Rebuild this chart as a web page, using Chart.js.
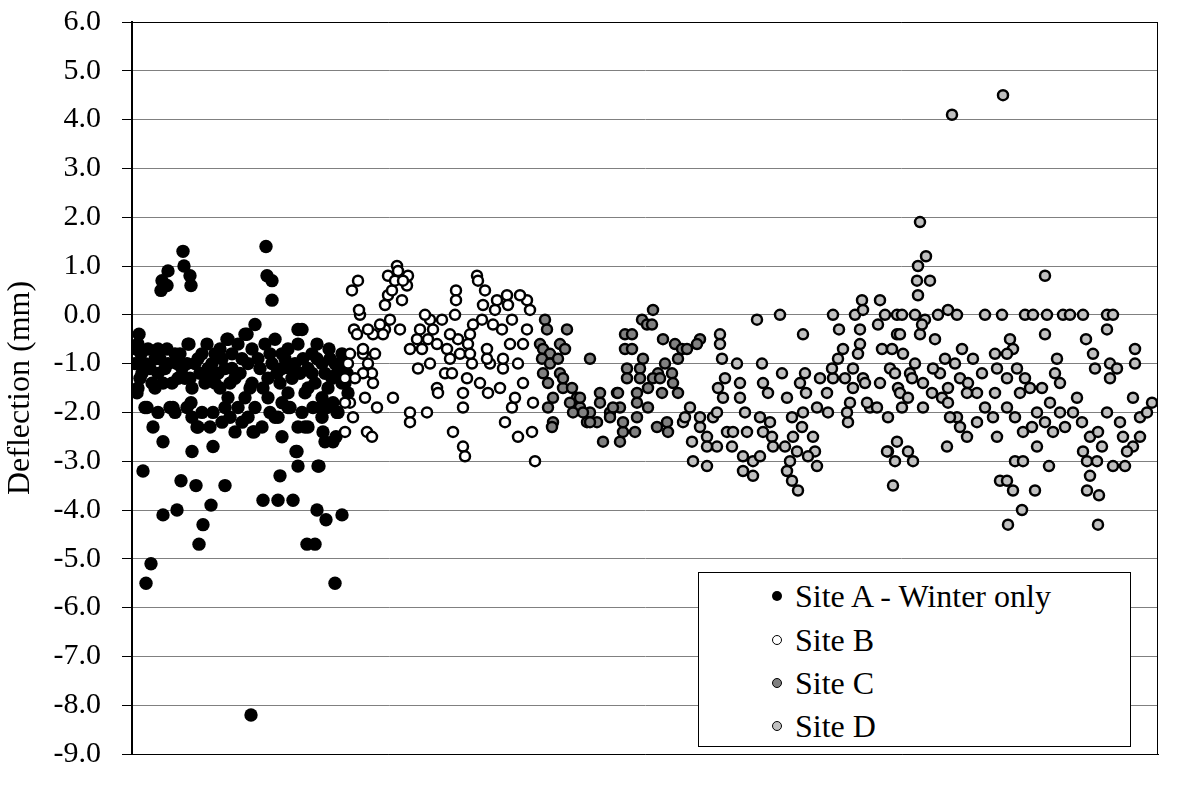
<!DOCTYPE html>
<html>
<head>
<meta charset="utf-8">
<script src="https://cdn.jsdelivr.net/npm/chart.js@4.4.0/dist/chart.umd.min.js"></script>
</head>
<body style="margin:0;background:#fff">
<div id="wrap" style="position:relative;width:1200px;height:800px">
    <div id="legend" style="position:absolute;z-index:2;left:698px;top:572px;width:431px;height:173px;border:1px solid #000;background:#fff;font-family:'Liberation Serif';font-size:32px;color:#000">
        <div style="position:absolute;left:73px;top:3px;height:40px;display:flex;align-items:center"><span style="width:10px;height:10px;border-radius:50%;margin-right:13px;background:#000"></span>Site A - Winter only</div>
        <div style="position:absolute;left:73px;top:47px;height:40px;display:flex;align-items:center"><span style="width:10px;height:10px;border-radius:50%;margin-right:13px;box-sizing:border-box;background:#fff;border:1.5px solid #000"></span>Site B</div>
        <div style="position:absolute;left:73px;top:90px;height:40px;display:flex;align-items:center"><span style="width:10px;height:10px;border-radius:50%;margin-right:13px;box-sizing:border-box;background:#808080;border:1.5px solid #000"></span>Site C</div>
        <div style="position:absolute;left:73px;top:133px;height:40px;display:flex;align-items:center"><span style="width:10px;height:10px;border-radius:50%;margin-right:13px;box-sizing:border-box;background:#c0c0c0;border:1.5px solid #000"></span>Site D</div>
    </div>
    <canvas id="deflection" width="1200" height="800"></canvas>
</div>
<script>
// readings: [sample no., deflection mm]
const siteA = [
    [4,-0.7],[5,-1.6],[7,-0.4],[6,-0.6],[8,-1.3],[9,-0.8],[11,-3.2],[14,-5.5],[19,-5.1],[13,-1.9],[21,-2.3],
    [31,-2.6],[31,-4.1],[45,-4.0],[49,-3.4],[60,-2.8],[64,-3.5],[67,-4.7],[71,-4.3],[79,-3.9],[81,-2.7],
    [93,-3.5],[103,-2.4],[119,-8.2],[122,-2.4],[131,-3.8],[146,-3.8],[148,-3.3],[150,-2.5],[161,-3.8],
    [164,-2.8],[166,-3.1],[175,-4.7],[183,-4.7],[185,-4.0],[187,-3.1],[194,-4.2],[203,-5.5],[210,-4.1],
    [191,-2.4],[201,-2.6],[193,-2.6],[173,-2.3],[188,-1.9],[205,-2.0],[59,-1.8],[38,-1.9],[65,-2.3],
    [78,-2.3],[90,-2.2],[130,-2.3],[143,-2.1],[156,-1.9],
    [29,0.5],[30,0.7],[36,0.9],[35,0.6],[51,1.3],[52,1.0],[58,0.8],[59,0.6],[134,1.4],[135,0.8],[140,0.7],
    [140,0.3],[123,-0.2],[113,-0.4],[95,-0.5],[57,-0.6],[170,-0.3],[166,-0.3],[197,-0.7],
    [56,-0.6],[96,-0.5],[115,-0.4],[143,-0.5],[26,-0.7],[35,-0.7],[43,-0.8],[70,-0.8],[83,-0.8],[106,-0.6],
    [133,-0.6],[156,-0.7],[166,-0.6],[180,-0.8],
    [13,-1.0],[23,-0.9],[36,-1.0],[50,-1.1],[63,-1.0],[76,-1.1],[90,-0.9],[100,-1.1],[126,-0.9],[140,-1.0],
    [150,-1.1],[163,-1.0],[176,-1.1],[190,-1.0],[203,-1.0],
    [10,-1.2],[26,-1.2],[53,-1.3],[76,-1.2],[103,-1.3],[120,-1.4],[136,-1.3],[160,-1.3],[200,-1.3],[213,-1.4],
    [6,-1.5],[23,-1.5],[40,-1.4],[60,-1.5],[83,-1.4],[96,-1.7],[113,-1.7],[136,-1.7],[156,-1.6],[176,-1.5],[190,-1.7],
    [15,-1.9],[26,-2.0],[41,-1.9],[60,-2.1],[81,-2.0],[93,-1.9],[106,-1.9],[116,-2.1],[123,-1.9],[146,-2.1],
    [158,-1.9],[190,-2.1],[206,-2.0],[66,-2.3],[121,-2.4],[166,-2.3],[176,-2.3],[165,-2.8],[186,-3.1],
    [198,-0.9],[205,-1.2],[210,-1.4],[213,-1.0],[201,-1.8],[204,-2.5],
    [3,-1.0],[16,-0.7],[18,-1.1],[20,-1.4],[28,-0.9],[31,-1.4],[33,-1.1],[45,-1.0],[46,-1.3],[48,-0.8],
    [55,-1.0],[58,-1.3],[66,-0.9],[68,-1.2],[73,-1.4],[80,-1.0],[86,-1.2],[88,-1.5],[93,-1.1],[98,-1.4],
    [108,-1.2],[110,-0.9],[116,-1.0],[118,-1.5],[128,-1.1],[131,-1.5],[138,-0.8],[145,-1.2],[148,-1.4],
    [153,-0.9],[158,-1.1],[168,-1.2],[171,-0.9],[173,-1.6],[180,-1.2],[183,-1.4],[185,-0.9],[193,-1.2],
    [196,-1.5],[208,-1.1],[210,-0.8],[215,-1.2],[216,-1.6],[100,-0.8],[75,-0.6],[88,-0.7],[120,-0.7],
    [150,-0.8],[185,-0.6],[43,-2.0],[55,-1.9],[70,-2.0],[98,-2.1],[110,-2.2],[138,-2.0],[150,-1.8],
    [170,-2.0],[181,-1.9],[195,-1.9]
];
const siteB = [
    [220,0.5],[226,0.7],[228,0.0],[227,0.1],[222,-0.3],[225,-0.4],[233,-1.7],[241,-1.4],[240,-1.2],[231,-1.2],
    [243,-0.8],[231,-0.8],[236,-1.0],[218,-0.8],[216,-1.0],[223,-1.3],[213,-1.3],[218,-1.8],[213,-1.8],
    [221,-2.1],[213,-2.4],[235,-2.4],[240,-2.5],[245,-1.9],[261,-1.7],[278,-2.0],[278,-2.2],[295,-2.0],
    [286,-1.1],[298,-1.0],[305,-1.5],[306,-1.6],[313,-1.2],[320,-1.2],[331,-1.6],[331,-1.9],[321,-2.4],
    [331,-2.7],[333,-2.9],[335,-1.3],[340,-1.0],[348,-1.4],[356,-1.6],[368,-1.5],[373,-2.2],[380,-1.9],
    [383,-1.7],[386,-2.5],[391,-1.4],[401,-1.8],[400,-2.4],[403,-3.0],[386,-1.0],[371,-1.1],[358,-1.0],
    [355,-0.7],[378,-0.6],[391,-0.6],[395,-0.3],[398,0.1],[395,0.3],[388,0.4],[375,0.4],[376,0.2],[365,0.3],
    [363,0.1],[380,-0.1],[370,-0.3],[361,-0.2],[353,0.5],[345,0.8],[346,0.7],[351,0.2],[350,-0.1],[341,-0.2],
    [338,-0.4],[336,-0.6],[326,-0.5],[318,-0.4],[323,0.0],[324,0.5],[324,0.3],[310,-0.1],[298,-0.1],[293,0.0],
    [301,-0.3],[288,-0.3],[285,-0.5],[278,-0.7],[290,-0.7],[296,-0.5],[305,-0.6],[315,-0.7],[318,-0.9],
    [328,-0.8],[338,-0.8],[355,-0.9],[371,-0.9],[268,-0.3],[258,-0.1],[253,-0.3],[248,-0.2],[251,-0.4],
    [241,-0.4],[236,-0.3],[231,-0.7],[253,0.2],[256,0.4],[260,0.5],[270,0.3],[275,0.6],[276,0.8],[265,1.0],
    [266,0.9],[256,0.8],[263,0.7],[271,0.7]
];
const siteC = [
    [413,-0.1],[415,-0.3],[435,-0.3],[408,-0.6],[411,-0.7],[418,-0.8],[428,-0.6],[433,-0.7],[410,-0.9],
    [418,-1.0],[426,-0.9],[428,-1.2],[411,-1.2],[416,-1.4],[421,-1.7],[416,-1.9],[421,-2.2],[420,-2.3],
    [431,-1.5],[440,-1.5],[445,-1.7],[448,-1.9],[458,-0.9],[458,-2.0],[468,-1.6],[465,-2.2],[471,-2.6],
    [478,-2.0],[485,-1.6],[488,-1.9],[488,-2.6],[491,-2.4],[491,-2.2],[493,-0.4],[493,-0.7],[495,-1.1],
    [495,-1.3],[451,-2.0],[438,-1.8],[431,-1.3],[448,-1.7],[455,-2.2],[486,-1.6],[503,-2.4],[481,-1.9],
    [500,-0.4],[500,-0.7],[510,-0.1],[511,-0.9],[515,-0.2],[520,-0.2],[521,0.1],[508,-1.1],[508,-1.3],
    [505,-1.6],[516,-1.5],[516,-1.9],[505,-1.8],[505,-2.1],[525,-2.3],[535,-2.2],[536,-2.4],[531,-0.5],
    [543,-0.6],[550,-0.7],[555,-0.7],[546,-0.9],[533,-1.0],[526,-1.2],[540,-1.2],[530,-1.6],[541,-1.4],
    [546,-1.6],[568,-0.5],[565,-0.6],[521,-1.3],[528,-1.3],[468,-1.8],[478,-2.1],[441,-2.0],[458,-2.2]
];
const siteD = [
    [588,-0.4],[588,-0.6],[590,-0.9],[625,-0.1],[648,0.0],[671,-0.4],[630,-1.0],[605,-1.0],[650,-1.2],
    [673,-1.2],[593,-1.3],[586,-1.5],[591,-1.7],[608,-1.4],[608,-1.7],[631,-1.4],[636,-1.6],[655,-1.7],
    [668,-1.4],[674,-1.6],[688,-1.3],[695,-1.6],[701,-1.3],[700,-1.1],[711,-0.7],[706,-0.9],[707,-0.3],
    [701,0.0],[723,0.0],[730,0.3],[731,0.1],[728,-0.3],[728,-0.6],[726,-0.8],[721,-1.1],[721,-1.5],
    [718,-1.8],[716,-2.2],[715,-2.0],[713,-1.3],[731,-1.3],[748,0.3],[753,0.0],[746,-0.2],[750,-0.7],
    [760,-0.7],[758,-1.1],[748,-1.4],[738,-1.9],[745,-1.9],[756,-2.1],[765,0.0],[765,-0.4],[766,-1.5],
    [756,-2.8],[763,-3.0],[761,-3.5],[765,-2.6],[696,-2.0],[685,-1.9],[558,-1.9],[551,-2.2],[560,-2.6],
    [561,-3.0],[575,-3.1],[568,-2.3],[575,-2.5],[581,-2.1],[585,-2.7],[595,-2.4],[601,-2.4],[615,-2.4],
    [600,-2.7],[611,-2.9],[611,-3.2],[621,-3.3],[621,-3.0],[628,-2.9],[631,-2.4],[638,-2.2],[640,-2.5],
    [641,-2.7],[653,-2.7],[658,-3.0],[655,-3.2],[660,-3.4],[666,-3.6],[661,-2.5],[670,-2.3],[671,-2.0],
    [660,-2.1],[665,-2.8],[681,-2.5],[683,-2.8],[685,-3.1],[676,-2.9],[613,-2.0],[628,-2.1],[585,-2.0],
    [568,-2.1],[553,-2.1],[575,-2.7],
    [871,4.5],[820,4.1],[788,1.9],[794,1.2],[786,1.0],[785,0.7],[798,0.7],[786,0.4],[913,0.8],[770,0.0],
    [783,0.0],[793,-0.1],[806,0.0],[816,0.1],[825,0.0],[853,0.0],[870,0.0],[893,0.0],[901,0.0],[915,0.0],
    [931,0.0],[938,0.0],[951,0.0],[975,0.0],[981,0.0],[975,-0.3],[913,-0.4],[954,-0.5],[768,-0.4],[788,-0.4],
    [790,-0.2],[878,-0.5],[881,-0.7],[803,-0.5],[771,-0.8],[830,-0.7],[841,-0.9],[863,-0.8],[875,-0.8],
    [925,-0.9],[961,-0.8],[1003,-0.7],[1003,-1.0],[963,-1.1],[923,-1.2],[928,-1.4],[978,-1.0],[985,-1.1],
    [978,-1.3],[783,-1.0],[763,-1.2],[778,-1.2],[813,-0.9],[823,-1.0],[733,-1.4],[780,-1.3],[791,-1.4],
    [808,-1.2],[801,-1.1],[816,-1.5],[828,-1.3],[836,-1.4],[850,-1.2],[865,-1.1],[885,-1.1],[893,-1.3],
    [863,-1.6],[875,-1.3],[845,-1.6],[835,-1.6],[768,-1.6],[776,-1.7],[800,-1.6],[810,-1.7],[888,-1.6],
    [898,-1.5],[910,-1.5],[735,-1.8],[770,-1.9],[791,-1.9],[816,-1.8],[825,-2.1],[835,-2.5],[845,-2.2],
    [853,-1.9],[861,-2.1],[865,-2.5],[875,-1.9],[883,-2.1],[891,-2.4],[900,-2.3],[905,-2.0],[913,-2.2],
    [918,-1.8],[921,-2.4],[933,-2.3],[945,-1.7],[950,-2.2],[958,-2.5],[966,-2.4],[975,-2.0],[988,-2.2],
    [991,-2.5],[1001,-1.7],[1008,-2.1],[1015,-2.0],[1020,-1.8],[1001,-2.7],[995,-2.8],[970,-2.7],[1008,-2.5],
    [941,-2.0],[928,-2.0],[755,-2.8],[776,-2.8],[781,-3.0],[815,-2.7],[883,-3.0],[891,-3.0],[868,-3.4],
    [875,-3.4],[881,-3.6],[903,-3.6],[890,-4.0],[876,-4.3],[905,-2.7],[917,-3.1],[951,-2.8],[955,-3.0],
    [965,-3.0],[958,-3.3],[955,-3.6],[967,-3.7],[966,-4.3],[981,-3.1],[993,-3.1],[818,-2.1],[828,-2.3]
];
const yTicks = { min: -9, max: 6, step: 1 };
const xRange = { min: 0, max: 1026 };

const serifFont = "'Liberation Serif'";
const toPoints = arr => arr.map(p => ({ x: p[0], y: p[1] }));

// Chart.js only draws the left and bottom axis lines, the box is closed here
const frame = {
    id: 'frame',
    afterDraw(chart) {
        const { ctx, chartArea: a } = chart;
        ctx.save();
        ctx.strokeStyle = '#000';
        ctx.lineWidth = 1;
        ctx.beginPath();
        ctx.moveTo(a.left, Math.round(a.top) + 0.5);
        ctx.lineTo(a.right, Math.round(a.top) + 0.5);
        ctx.moveTo(Math.round(a.right) - 0.5, a.top);
        ctx.lineTo(Math.round(a.right) - 0.5, a.bottom);
        ctx.stroke();
        ctx.restore();
    }
};

Chart.defaults.font.family = serifFont;

const canvas = document.getElementById('deflection');
const chart = new Chart(canvas, {
    type: 'scatter',
    data: {
        datasets: [
            { label: 'Site A - Winter only', data: toPoints(siteA), order: 4,
              backgroundColor: '#000', borderColor: '#000', borderWidth: 0, pointRadius: 6.7 },
            { label: 'Site B', data: toPoints(siteB), order: 3,
              backgroundColor: '#fff', borderColor: '#000', borderWidth: 2.5, pointRadius: 5 },
            { label: 'Site C', data: toPoints(siteC), order: 2,
              backgroundColor: '#808080', borderColor: '#000', borderWidth: 2.5, pointRadius: 5 },
            { label: 'Site D', data: toPoints(siteD), order: 1,
              backgroundColor: '#c0c0c0', borderColor: '#000', borderWidth: 2.5, pointRadius: 5 }
        ]
    },
    options: {
        responsive: false,
        animation: false,
        devicePixelRatio: 1,
        events: [],
        layout: { padding: { left: 0, top: 22, right: 42, bottom: 46 } },
        plugins: {
            legend: { display: false },
            tooltip: { enabled: false }
        },
        scales: {
            x: {
                type: 'linear',
                min: xRange.min,
                max: xRange.max,
                ticks: { display: false },
                grid: { display: false },
                border: { display: true, color: '#000', width: 1 },
                afterFit: s => { s.height = 0; }
            },
            y: {
                min: yTicks.min,
                max: yTicks.max,
                ticks: {
                    stepSize: yTicks.step,
                    padding: 21,
                    color: '#000',
                    font: { family: serifFont, size: 30 },
                    callback: v => v.toFixed(1)
                },
                grid: { color: '#808080', lineWidth: 1, tickLength: 10, tickColor: '#000' },
                border: { display: true, color: '#000', width: 2 },
                title: {
                    display: true,
                    text: 'Deflection (mm)',
                    color: '#000',
                    font: { family: serifFont, size: 32 },
                    padding: { top: 1, bottom: 0 }
                },
                // tick padding would otherwise push the plot down
                afterFit: s => { s.width = 132; s.paddingTop = 0; s.paddingBottom = 0; }
            }
        }
    },
    plugins: [frame]
});

// redraw once the serif face is ready, in case it was not at first paint
if (document.fonts) {
    document.fonts.load('30px "Liberation Serif"').then(() => chart.update());
    document.fonts.ready.then(() => chart.update());
}
</script>
</body>
</html>
